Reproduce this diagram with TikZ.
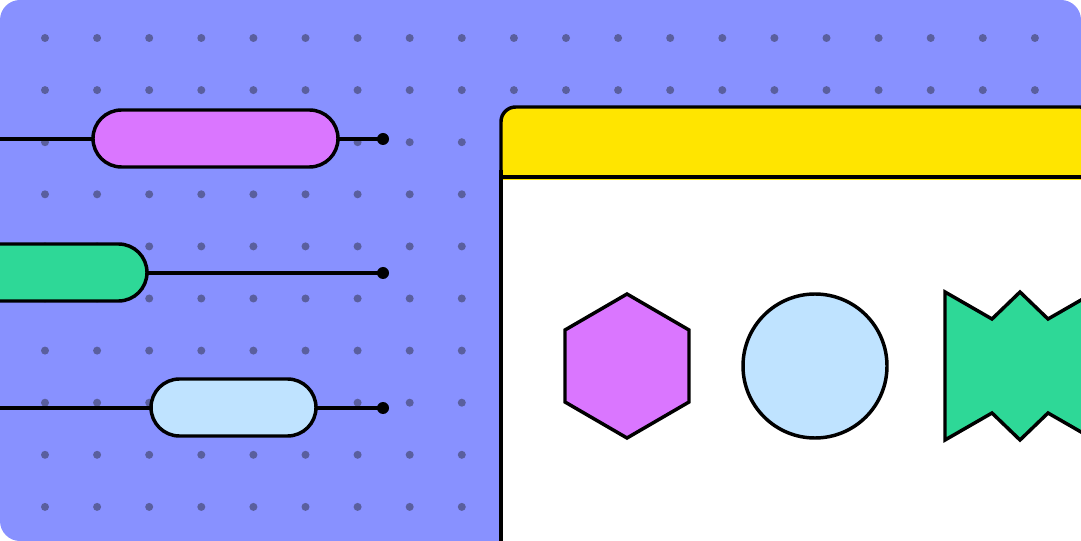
\documentclass[tikz,border=0pt]{standalone}
\definecolor{bg}{HTML}{8891FF}
\definecolor{dotc}{HTML}{5A5F9E}
\definecolor{pinkc}{HTML}{DA76FF}
\definecolor{greenc}{HTML}{2ED897}
\definecolor{bluec}{HTML}{BFE3FF}
\definecolor{yel}{HTML}{FFE500}
\begin{document}
\begin{tikzpicture}[x=0.75pt,y=-0.75pt,
  ol/.style={draw=black,line width=2.6pt,line join=miter},
  pill/.style={ol,rounded corners=28.5*0.75pt},
  wire/.style={draw=black,line width=2.6pt},
  endpt/.style={circle,fill=black,inner sep=0pt,minimum size=9pt}]
\useasboundingbox (0,0) rectangle (1081,541);
\clip (0,0) rectangle (1081,541);
\fill[bg,rounded corners=15pt] (0,0) rectangle (1081,541);
\foreach \i in {0,...,19}\foreach \j in {0,...,9}
  \fill[dotc] (45+52.1*\i,38+52.1*\j) circle (3pt);
% window
\fill[white] (501,177) rectangle (1095,560);
\filldraw[ol,fill=yel,rounded corners=11pt] (501,180) -- (501,107) -- (1095,107) -- (1095,180);
\draw[ol] (501,177) -- (1095,177);
\draw[ol] (501,170) -- (501,560);
% shapes
\filldraw[ol,fill=pinkc] (627,294) -- (689,330) -- (689,402) -- (627,438) -- (565,402) -- (565,330) -- cycle;
\filldraw[ol,fill=bluec] (815,366) circle (54pt);
\filldraw[ol,fill=greenc] (945,292) -- (992,319) -- (1020,292) -- (1048,319) -- (1095,292) -- (1095,440) -- (1048,413) -- (1020,440) -- (992,413) -- (945,440) -- cycle;
% wires
\coordinate (l1) at (-5,139); \node[endpt] (e1) at (383,139) {};
\coordinate (l3) at (-5,408); \node[endpt] (e3) at (383,408) {};
\node[endpt] (e2) at (383,273) {};
\draw[wire] (l1) -- (e1.center);
\draw[wire] (l3) -- (e3.center);
\draw[wire] (140,273) -- (e2.center);
\filldraw[pill,fill=pinkc] (93,110) rectangle (338,167);
\filldraw[pill,fill=greenc] (-40,244) rectangle (147,301);
\filldraw[pill,fill=bluec] (151,379) rectangle (316,436);
\end{tikzpicture}
\end{document}
